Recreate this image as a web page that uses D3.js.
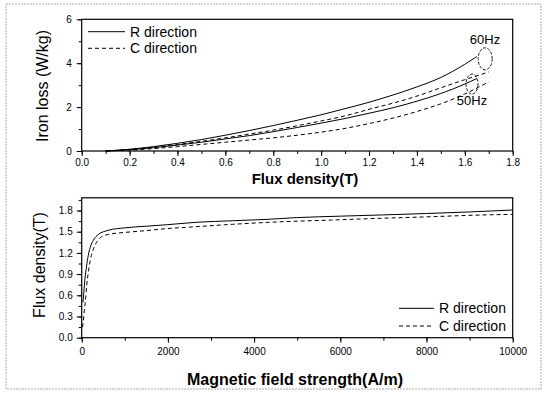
<!DOCTYPE html>
<html>
<head>
<meta charset="utf-8">
<script src="https://cdn.jsdelivr.net/npm/d3@7"></script>
<style>
  body { margin: 0; background: #fff; }
  svg { font-family: "Liberation Sans", Arial, sans-serif; }
</style>
</head>
<body>
<script>
const width = 544;
const height = 397;

// iron loss vs flux density (top panel)
const lossB = [0.1, 0.2, 0.3, 0.4, 0.5, 0.6, 0.7, 0.8, 0.9, 1.0, 1.1, 1.2, 1.3, 1.4, 1.5, 1.6, 1.65];
const lossR60 = [0.0, 0.08, 0.2, 0.35, 0.52, 0.72, 0.93, 1.16, 1.4, 1.65, 1.93, 2.22, 2.55, 2.92, 3.35, 3.95, 4.3];
const lossR50 = [0.0, 0.06, 0.15, 0.27, 0.4, 0.55, 0.7, 0.88, 1.07, 1.27, 1.48, 1.72, 1.97, 2.27, 2.62, 3.05, 3.3];
const lossCB = [0.1, 0.2, 0.3, 0.4, 0.5, 0.6, 0.7, 0.8, 0.9, 1.0, 1.1, 1.2, 1.3, 1.4, 1.5, 1.6, 1.7];
const lossC60 = [0.0, 0.07, 0.17, 0.3, 0.44, 0.6, 0.77, 0.95, 1.15, 1.37, 1.6, 1.9, 2.18, 2.5, 2.88, 3.25, 3.6];
const lossC50 = [0.0, 0.04, 0.11, 0.2, 0.3, 0.4, 0.5, 0.6, 0.72, 0.86, 1.03, 1.25, 1.5, 1.8, 2.15, 2.6, 3.15];

// B-H curves (bottom panel)
const bhR_H = [30, 50, 77, 110, 154, 210, 270, 385, 617, 1000, 1500, 2000, 2700, 3500, 4300, 5000, 6000, 7000, 8000, 9000, 10000];
const bhR_B = [0.5, 0.65, 0.84, 1.0, 1.17, 1.3, 1.38, 1.46, 1.52, 1.555, 1.578, 1.6, 1.635, 1.655, 1.675, 1.7, 1.72, 1.738, 1.758, 1.78, 1.807];
const bhC_H = [20, 37, 60, 85, 116, 155, 193, 250, 309, 390, 464, 600, 773, 1000, 1392, 2000, 2629, 3500, 4600, 5800, 6920, 8000, 9240, 10000];
const bhC_B = [0.15, 0.23, 0.38, 0.51, 0.74, 0.93, 1.08, 1.22, 1.31, 1.39, 1.43, 1.46, 1.477, 1.49, 1.51, 1.545, 1.57, 1.605, 1.64, 1.665, 1.69, 1.71, 1.736, 1.746];

const topXTicks = [0.0, 0.2, 0.4, 0.6, 0.8, 1.0, 1.2, 1.4, 1.6, 1.8];
const topYTicks = [0, 2, 4, 6];
const botXTicks = [0, 2000, 4000, 6000, 8000, 10000];
const botYTicks = [0.0, 0.3, 0.6, 0.9, 1.2, 1.5, 1.8];
const legendNames = ["R direction", "C direction"];

const svg = d3.select("body").append("svg")
    .attr("width", width)
    .attr("height", height);

// dashed outer frame of the scanned figure
svg.append("rect")
    .attr("x", 6).attr("y", 4).attr("width", 535).attr("height", 385)
    .attr("fill", "none").attr("stroke", "#aaa").attr("stroke-dasharray", "2,1");

const L = 81.7, R = 512.7;

// ---------- top panel ----------
const x1 = d3.scaleLinear().domain([0, 1.8]).range([L, R]);
const y1 = d3.scaleLinear().domain([0, 6]).range([151, 19.3]);

const g1 = svg.append("g");

g1.append("rect")
    .attr("x", L).attr("y", y1(6)).attr("width", R - L).attr("height", y1(0) - y1(6))
    .attr("fill", "none").attr("stroke", "#000").attr("stroke-width", 1.2);

g1.append("g")
    .attr("transform", `translate(0,${y1(0)})`)
    .call(d3.axisBottom(x1).tickValues(d3.range(0, 1.81, 0.1)).tickSize(3).tickFormat(""))
    .call(g => g.select(".domain").remove());
g1.append("g")
    .attr("transform", `translate(0,${y1(0)})`)
    .call(d3.axisBottom(x1).tickValues(topXTicks).tickSize(5).tickPadding(3).tickFormat(d3.format(".1f")))
    .call(g => g.select(".domain").remove())
    .call(g => g.selectAll("text").attr("font-size", 10).attr("font-family", "Liberation Sans, Arial"));

g1.append("g")
    .attr("transform", `translate(${L},0)`)
    .call(d3.axisLeft(y1).tickValues(d3.range(0, 6.1, 1)).tickSize(3).tickFormat(""))
    .call(g => g.select(".domain").remove());
g1.append("g")
    .attr("transform", `translate(${L},0)`)
    .call(d3.axisLeft(y1).tickValues(topYTicks).tickSize(5).tickPadding(5).tickFormat(d3.format("d")))
    .call(g => g.select(".domain").remove())
    .call(g => g.selectAll("text").attr("font-size", 10).attr("font-family", "Liberation Sans, Arial"));

const line1 = (xs) => d3.line()
    .x((d, i) => x1(xs[i]))
    .y(d => y1(d))
    .curve(d3.curveMonotoneX);

[[lossB, lossR60, null], [lossB, lossR50, null], [lossCB, lossC60, "4,3"], [lossCB, lossC50, "4,3"]]
  .forEach(([xs, ys, dash]) => {
    g1.append("path")
        .datum(ys)
        .attr("d", line1(xs))
        .attr("fill", "none").attr("stroke", "#000").attr("stroke-width", 1)
        .attr("stroke-dasharray", dash);
  });

// frequency ellipses and labels
g1.append("ellipse")
    .attr("cx", x1(1.685)).attr("cy", y1(4.2)).attr("rx", 7).attr("ry", 11)
    .attr("fill", "none").attr("stroke", "#000").attr("stroke-width", 0.9).attr("stroke-dasharray", "3,1.5");
g1.append("ellipse")
    .attr("cx", x1(1.63)).attr("cy", y1(3.05)).attr("rx", 6).attr("ry", 10)
    .attr("fill", "none").attr("stroke", "#000").attr("stroke-width", 0.9).attr("stroke-dasharray", "3,1.5");
g1.append("text").attr("x", 485).attr("y", 44).attr("text-anchor", "middle")
    .attr("font-size", 13).text("60Hz");
g1.append("text").attr("x", 472).attr("y", 105).attr("text-anchor", "middle")
    .attr("font-size", 13).text("50Hz");

// legend
legendNames.forEach((name, i) => {
  const yy = 31.7 + i * 16.6;
  g1.append("line").attr("x1", 88).attr("x2", 125).attr("y1", yy).attr("y2", yy)
      .attr("stroke", "#000").attr("stroke-width", 1).attr("stroke-dasharray", i ? "4,3" : null);
  g1.append("text").attr("x", 130).attr("y", yy + 5).attr("font-size", 14).text(name);
});

g1.append("text")
    .attr("x", 305).attr("y", 184).attr("text-anchor", "middle")
    .attr("font-size", 15).attr("font-weight", "bold").text("Flux density(T)");
g1.append("text")
    .attr("transform", `translate(48,86) rotate(-90)`)
    .attr("text-anchor", "middle").attr("font-size", 16).text("Iron loss (W/kg)");

// ---------- bottom panel ----------
const x2 = d3.scaleLinear().domain([0, 10000]).range([L, R]);
const y2 = d3.scaleLinear().domain([0, 1.98]).range([337.7, 197.8]);

const g2 = svg.append("g");

g2.append("rect")
    .attr("x", L).attr("y", y2(1.98)).attr("width", R - L).attr("height", y2(0) - y2(1.98))
    .attr("fill", "none").attr("stroke", "#000").attr("stroke-width", 1.2);

g2.append("g")
    .attr("transform", `translate(0,${y2(0)})`)
    .call(d3.axisBottom(x2).tickValues(d3.range(0, 10001, 1000)).tickSize(3).tickFormat(""))
    .call(g => g.select(".domain").remove());
g2.append("g")
    .attr("transform", `translate(0,${y2(0)})`)
    .call(d3.axisBottom(x2).tickValues(botXTicks).tickSize(5).tickPadding(5).tickFormat(d3.format("d")))
    .call(g => g.select(".domain").remove())
    .call(g => g.selectAll("text").attr("font-size", 10).attr("font-family", "Liberation Sans, Arial"));

g2.append("g")
    .attr("transform", `translate(${L},0)`)
    .call(d3.axisLeft(y2).tickValues(d3.range(0, 1.96, 0.15)).tickSize(3).tickFormat(""))
    .call(g => g.select(".domain").remove());
g2.append("g")
    .attr("transform", `translate(${L},0)`)
    .call(d3.axisLeft(y2).tickValues(botYTicks).tickSize(5).tickPadding(4).tickFormat(d3.format(".1f")))
    .call(g => g.select(".domain").remove())
    .call(g => g.selectAll("text").attr("font-size", 10).attr("font-family", "Liberation Sans, Arial"));

const line2 = (xs) => d3.line()
    .x((d, i) => x2(xs[i]))
    .y(d => y2(d))
    .curve(d3.curveMonotoneX);

g2.append("path").datum(bhR_B).attr("d", line2(bhR_H))
    .attr("fill", "none").attr("stroke", "#000").attr("stroke-width", 1);
g2.append("path").datum(bhC_B).attr("d", line2(bhC_H))
    .attr("fill", "none").attr("stroke", "#000").attr("stroke-width", 1).attr("stroke-dasharray", "4,3");

legendNames.forEach((name, i) => {
  const yy = 308.3 + i * 17.7;
  g2.append("line").attr("x1", 399).attr("x2", 434).attr("y1", yy).attr("y2", yy)
      .attr("stroke", "#000").attr("stroke-width", 1).attr("stroke-dasharray", i ? "4,3" : null);
  g2.append("text").attr("x", 439).attr("y", yy + 5).attr("font-size", 14).text(name);
});

g2.append("text")
    .attr("x", 295).attr("y", 385).attr("text-anchor", "middle")
    .attr("font-size", 16).attr("font-weight", "bold").text("Magnetic field strength(A/m)");
g2.append("text")
    .attr("transform", `translate(45,265) rotate(-90)`)
    .attr("text-anchor", "middle").attr("font-size", 16).text("Flux density(T)");
</script>
</body>
</html>
